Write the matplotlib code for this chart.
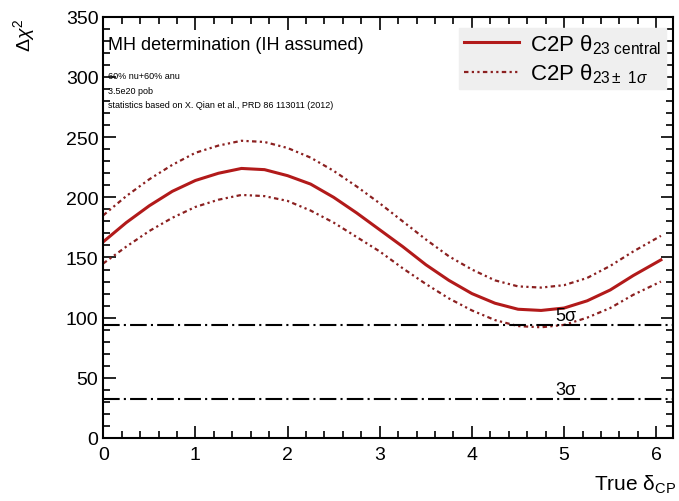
import matplotlib
matplotlib.use("Agg")
import matplotlib.pyplot as plt
from matplotlib.ticker import MultipleLocator

plt.rcParams['font.family'] = ['Liberation Sans', 'DejaVu Sans']
plt.rcParams['mathtext.fontset'] = 'custom'
plt.rcParams['mathtext.rm'] = 'Liberation Sans'
plt.rcParams['mathtext.it'] = 'Liberation Sans:italic'
plt.rcParams['mathtext.bf'] = 'Liberation Sans:bold'

delta_cp = [0, 0.25, 0.5, 0.75, 1.0, 1.25, 1.5, 1.75, 2.0, 2.25, 2.5, 2.75, 3.0,
            3.25, 3.5, 3.75, 4.0, 4.25, 4.5, 4.75, 5.0, 5.25, 5.5, 5.75, 6.05]
chi2_central = [163, 179, 193, 205, 214, 220, 224, 223, 218, 211, 200, 187, 173,
                159, 144, 131, 120, 112, 107, 106, 108, 114, 123, 135, 148]
chi2_upper = [185, 201, 215, 227, 237, 243, 247, 246, 241, 233, 222, 209, 195,
              180, 165, 151, 140, 131, 126, 125, 127, 133, 143, 155, 168]
chi2_lower = [145, 159, 172, 183, 192, 198, 202, 201, 197, 189, 179, 167, 155,
              141, 128, 116, 106, 98, 93, 92, 94, 100, 108, 119, 130]
sigma_levels = [94, 32]
sigma_labels = ['5σ', '3σ']

fig = plt.figure(figsize=(6.79, 5.02), dpi=100)
ax = fig.add_axes([0.152, 0.1255, 0.839, 0.839])

red = '#b21a1a'
dred = '#8b2020'
ax.plot(delta_cp, chi2_central, color=red, lw=2.2,
        label='C2P θ$_{\\mathrm{23\\ central}}$')
ax.plot(delta_cp, chi2_upper, color=dred, lw=1.6, ls=(0, (2, 1.5, 1, 1.5, 1, 1.5)),
        label='C2P θ$_{\\mathrm{23\\pm\\ 1}\\sigma}$')
ax.plot(delta_cp, chi2_lower, color=dred, lw=1.6, ls=(0, (2, 1.5, 1, 1.5, 1, 1.5)))

for lev, lab in zip(sigma_levels, sigma_labels):
    ax.axhline(lev, color='black', lw=1.5, ls=(0, (8, 2, 1, 2)))
    ax.text(5.02, lev + 1, lab, fontsize=13, color='black', ha='center', va='bottom')

ax.set_xlim(0, 6.18)
ax.set_ylim(0, 350)
ax.xaxis.set_major_locator(MultipleLocator(1))
ax.xaxis.set_minor_locator(MultipleLocator(0.2))
ax.yaxis.set_major_locator(MultipleLocator(50))
ax.yaxis.set_minor_locator(MultipleLocator(10))
ax.tick_params(which='both', direction='in', top=True, right=True, labelsize=14, width=1.2)
ax.tick_params(which='major', length=9)
ax.tick_params(which='minor', length=5)
ax.tick_params(axis='x', pad=6)
for s in ax.spines.values():
    s.set_linewidth(1.5)

ax.text(0.05, 327, 'MH determination (IH assumed)', fontsize=13, va='center', ha='left')
ax.text(0.05, 301, '60% nu+60% anu', fontsize=6.5, va='center', ha='left')
ax.text(0.05, 289, '3.5e20 pob', fontsize=6.5, va='center', ha='left')
ax.text(0.05, 277, 'statistics based on X. Qian et al., PRD 86 113011 (2012)', fontsize=6.5,
        va='center', ha='left')

leg = ax.legend(loc='upper right', bbox_to_anchor=(1.0, 0.99), fontsize=16, frameon=True,
                fancybox=False, framealpha=1, facecolor='#efefef', edgecolor='#efefef',
                handlelength=2.5, borderpad=0.2, labelspacing=0.25, handletextpad=0.5,
                borderaxespad=0.3)

fig.text(0.035, 0.93, r'$\Delta\chi^2$', rotation=90, fontsize=14, ha='center', va='center')
fig.text(0.995, 0.012, 'True δ$_{\\mathrm{CP}}$', fontsize=15, ha='right', va='bottom')

fig.savefig('out.png', dpi=100)
